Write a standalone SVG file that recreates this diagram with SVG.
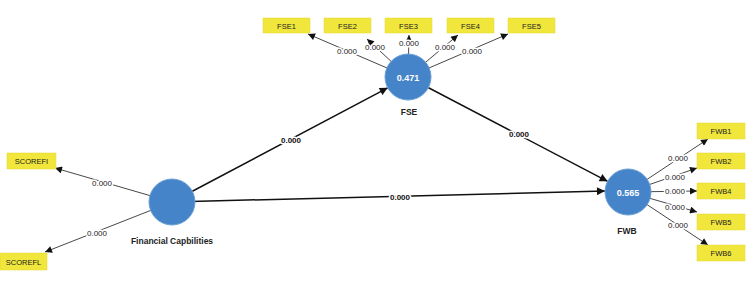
<svg xmlns="http://www.w3.org/2000/svg" width="750" height="288" viewBox="0 0 750 288">
<style>
.bg{fill:#ffffff}
.ind rect{fill:#f1e63c;stroke:#e3d830;stroke-width:0.5}
.ind text{font-family:"Liberation Sans",Arial,sans-serif;font-size:7.5px;fill:#222;text-anchor:middle}
.lv circle{fill:#4584c8;stroke:#6a9fd6;stroke-width:1}
.val{font-family:"Liberation Sans",Arial,sans-serif;font-size:9px;font-weight:bold;fill:#ffffff;text-anchor:middle}
.name{font-family:"Liberation Sans",Arial,sans-serif;font-size:8.5px;font-weight:bold;fill:#222;text-anchor:middle}
.s{stroke:#111;stroke-width:1.5;fill:none}
.m{stroke:#333;stroke-width:0.9;fill:none}
.lbl{font-family:"Liberation Sans",Arial,sans-serif;font-size:8px;fill:#222;text-anchor:middle;stroke:#fff;stroke-width:3;paint-order:stroke;stroke-linejoin:round}
.lblb{font-family:"Liberation Sans",Arial,sans-serif;font-size:8px;font-weight:bold;fill:#111;text-anchor:middle;stroke:#fff;stroke-width:3;paint-order:stroke;stroke-linejoin:round}
</style>
<defs>
<marker id="ab" viewBox="0 0 10 10" refX="10" refY="5" markerWidth="9" markerHeight="8" markerUnits="userSpaceOnUse" orient="auto"><path d="M0,0 L10,5 L0,10 z" fill="#111"/></marker>
<marker id="as" viewBox="0 0 10 10" refX="10" refY="5" markerWidth="8" markerHeight="7" markerUnits="userSpaceOnUse" orient="auto"><path d="M0,0 L10,5 L0,10 z" fill="#111"/></marker>
</defs>
<rect class="bg" x="0" y="0" width="750" height="288"/>
<g id="connectors">
<line class="s" x1="172" y1="202" x2="387.7" y2="87.8" marker-end="url(#ab)"/>
<line class="s" x1="408" y1="77" x2="607.6" y2="181.3" marker-end="url(#ab)"/>
<line class="s" x1="172" y1="202" x2="605" y2="191" marker-end="url(#ab)"/>
<line class="m" x1="408" y1="77" x2="308" y2="34" marker-end="url(#as)"/>
<line class="m" x1="408" y1="77" x2="367" y2="39" marker-end="url(#as)"/>
<line class="m" x1="408" y1="77" x2="409" y2="35" marker-end="url(#as)"/>
<line class="m" x1="408" y1="77" x2="458" y2="35" marker-end="url(#as)"/>
<line class="m" x1="408" y1="77" x2="508" y2="34" marker-end="url(#as)"/>
<line class="m" x1="172" y1="202" x2="55" y2="168" marker-end="url(#as)"/>
<line class="m" x1="172" y1="202" x2="45" y2="252" marker-end="url(#as)"/>
<line class="m" x1="628" y1="192" x2="708" y2="139" marker-end="url(#as)"/>
<line class="m" x1="628" y1="192" x2="697" y2="168" marker-end="url(#as)"/>
<line class="m" x1="628" y1="192" x2="697" y2="191" marker-end="url(#as)"/>
<line class="m" x1="628" y1="192" x2="697" y2="212" marker-end="url(#as)"/>
<line class="m" x1="628" y1="192" x2="708" y2="245" marker-end="url(#as)"/>
<text class="lblb" x="291" y="143">0.000</text>
<text class="lblb" x="519" y="137">0.000</text>
<text class="lblb" x="400" y="200">0.000</text>
<text class="lbl" x="347" y="54">0.000</text>
<text class="lbl" x="375" y="50">0.000</text>
<text class="lbl" x="409" y="46">0.000</text>
<text class="lbl" x="445" y="50">0.000</text>
<text class="lbl" x="472" y="54">0.000</text>
<text class="lbl" x="102" y="186">0.000</text>
<text class="lbl" x="97" y="236">0.000</text>
<text class="lbl" x="678" y="161">0.000</text>
<text class="lbl" x="675" y="180">0.000</text>
<text class="lbl" x="675" y="194">0.000</text>
<text class="lbl" x="675" y="210">0.000</text>
<text class="lbl" x="678" y="228">0.000</text>
</g>
<g id="FSE1" class="ind"><rect x="263" y="18" width="47" height="15"/><text x="286.5" y="28.5">FSE1</text></g>
<g id="FSE2" class="ind"><rect x="324" y="18" width="47" height="15"/><text x="347.5" y="28.5">FSE2</text></g>
<g id="FSE3" class="ind"><rect x="385" y="18" width="47" height="15"/><text x="408.5" y="28.5">FSE3</text></g>
<g id="FSE4" class="ind"><rect x="447" y="18" width="47" height="15"/><text x="470.5" y="28.5">FSE4</text></g>
<g id="FSE5" class="ind"><rect x="508" y="18" width="47" height="15"/><text x="531.5" y="28.5">FSE5</text></g>
<g id="SCOREFI" class="ind"><rect x="7" y="153" width="49" height="16"/><text x="31.5" y="164">SCOREFI</text></g>
<g id="SCOREFL" class="ind"><rect x="0" y="253" width="47" height="17"/><text x="23.5" y="264.5">SCOREFL</text></g>
<g id="FWB1" class="ind"><rect x="697" y="123" width="48" height="16"/><text x="721" y="134">FWB1</text></g>
<g id="FWB2" class="ind"><rect x="697" y="153" width="48" height="16"/><text x="721" y="164">FWB2</text></g>
<g id="FWB4" class="ind"><rect x="697" y="183" width="48" height="16"/><text x="721" y="194">FWB4</text></g>
<g id="FWB5" class="ind"><rect x="697" y="214" width="48" height="16"/><text x="721" y="225">FWB5</text></g>
<g id="FWB6" class="ind"><rect x="697" y="245" width="48" height="16"/><text x="721" y="256">FWB6</text></g>
<g id="FSE" class="lv"><circle cx="408" cy="77" r="23"/><text class="val" x="408" y="80.5">0.471</text><text class="name" x="409" y="115">FSE</text></g>
<g id="FinancialCapbilities" class="lv"><circle cx="172" cy="202" r="23"/><text class="name" x="172" y="244">Financial Capbilities</text></g>
<g id="FWB" class="lv"><circle cx="628" cy="192" r="23"/><text class="val" x="628" y="195.5">0.565</text><text class="name" x="627" y="234">FWB</text></g>
</svg>
